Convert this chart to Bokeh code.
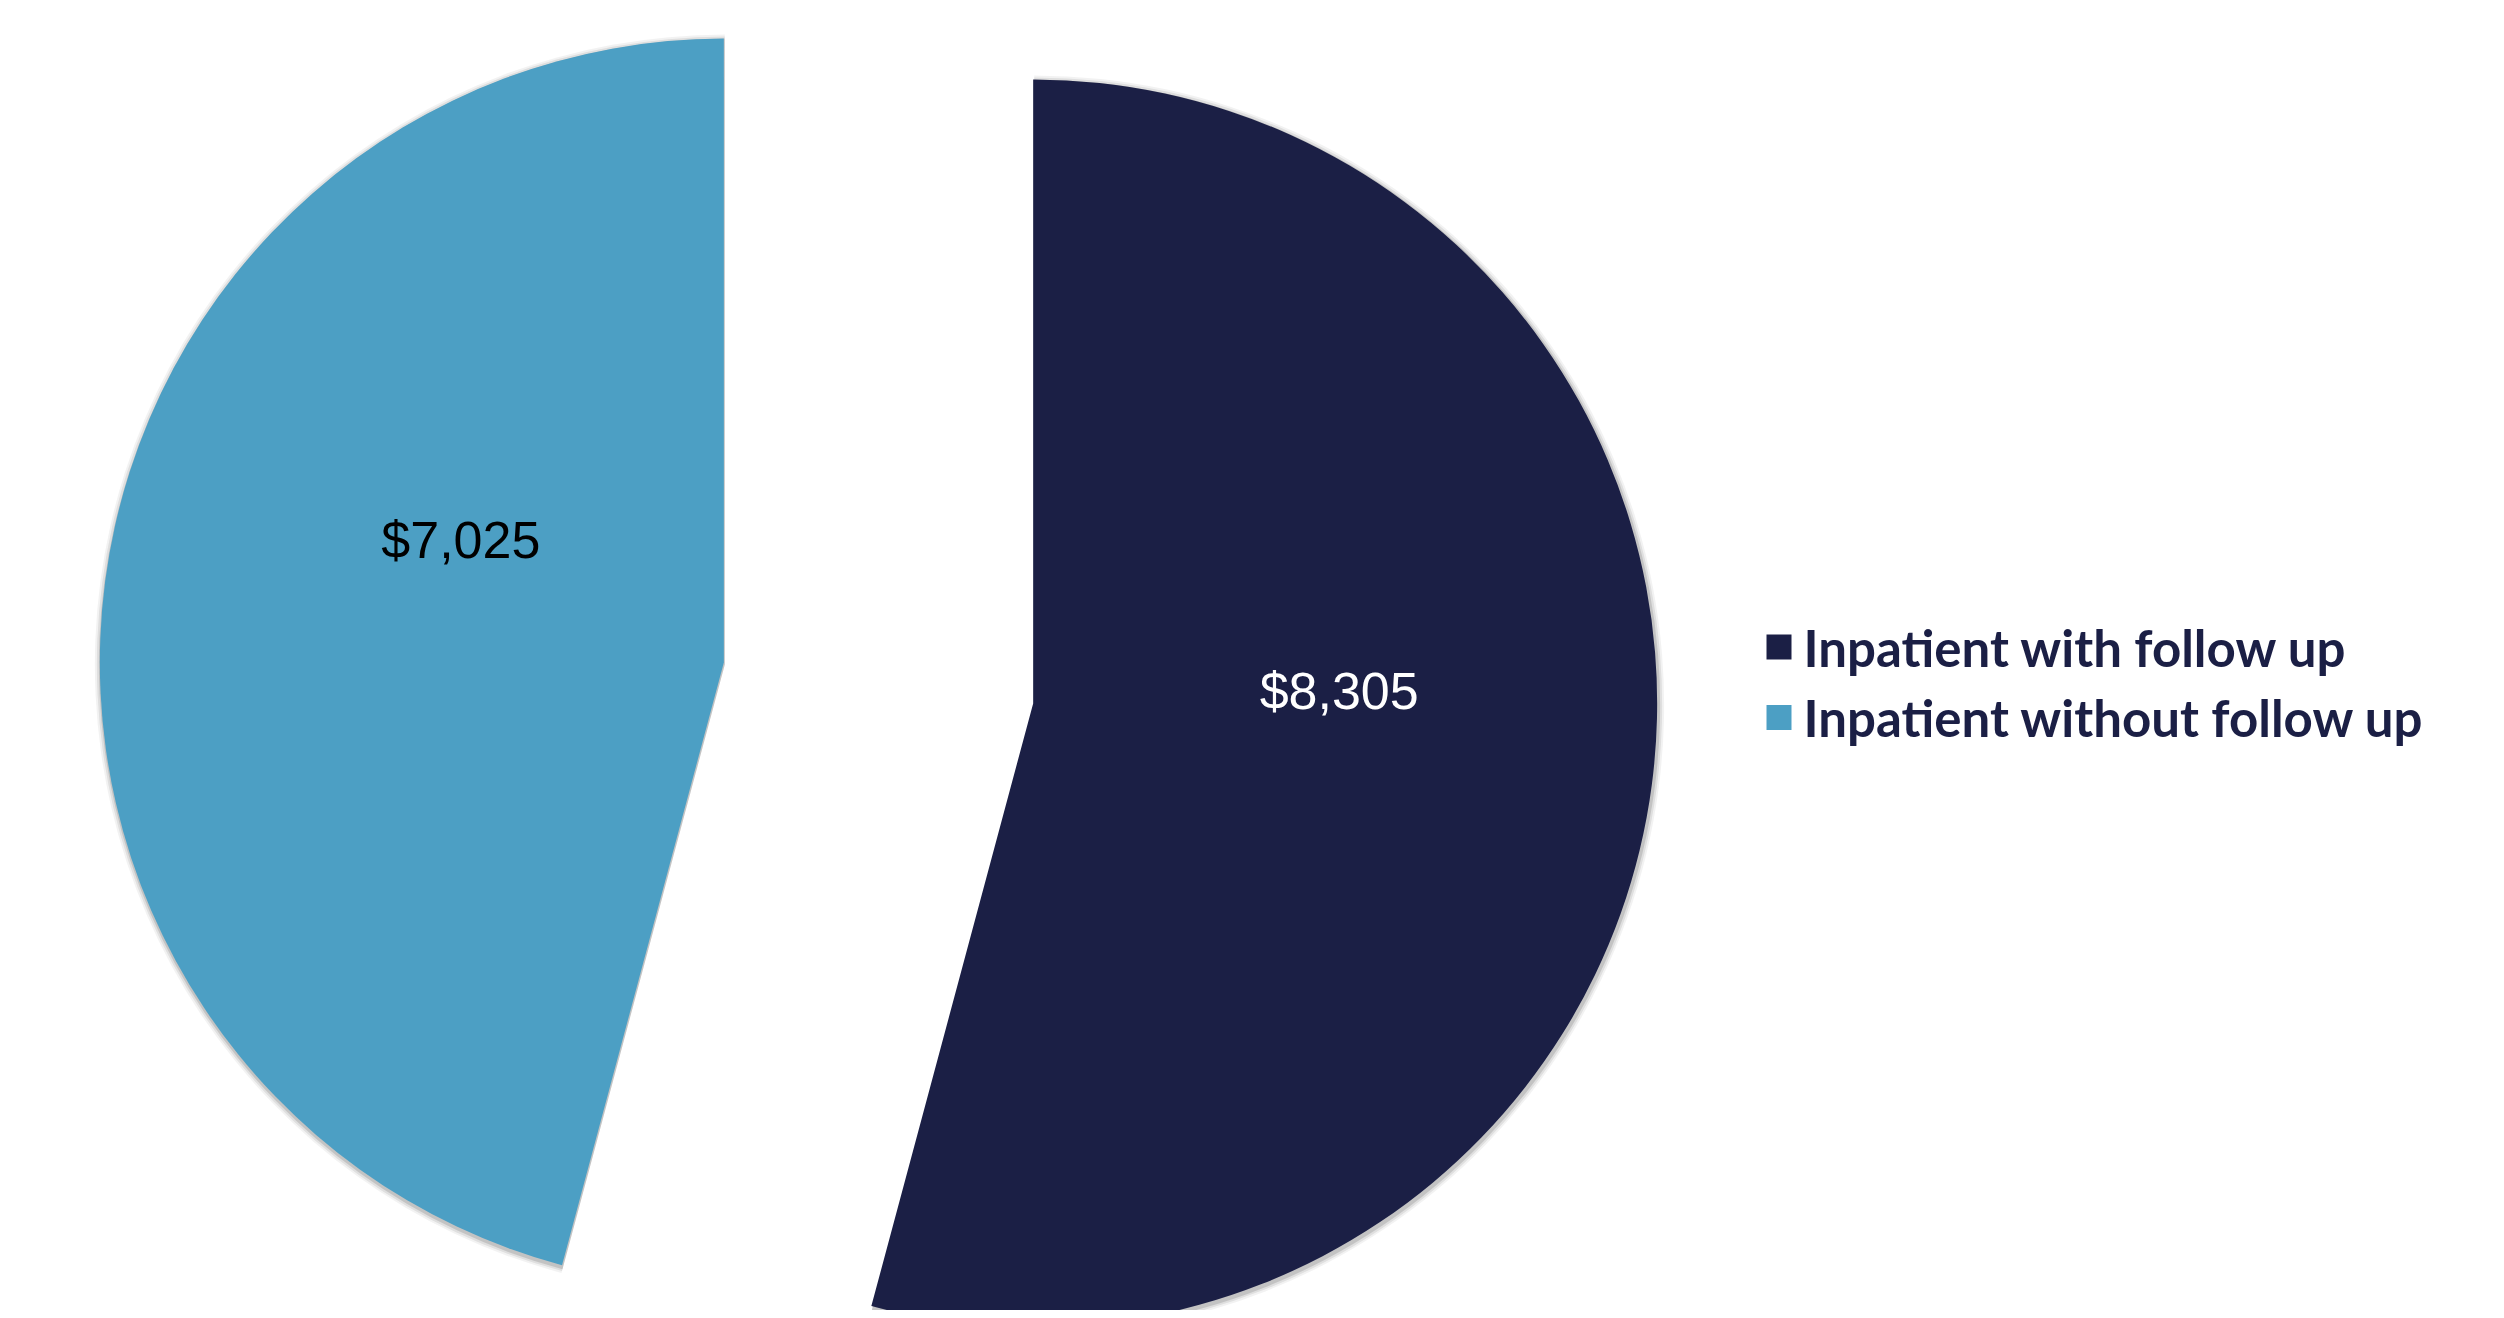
import math
from bokeh.plotting import figure
from bokeh.models import Range1d
from bokeh.core.properties import value
from bokeh.embed import file_html
from bokeh.resources import INLINE

# ---- data ----
categories = ["Inpatient with follow up", "Inpatient without follow up"]
costs = [8305, 7025]
labels = ["$8,305", "$7,025"]
colors = ["#1B1F45", "#4C9FC4"]
label_colors = ["#FFFFFF", "#000000"]

W, H = 2488, 1310
SH = 1318  # reference height used to map picture y -> data y

p = figure(width=W, height=H, output_backend="svg", toolbar_location=None,
           x_range=Range1d(0, W), y_range=Range1d(SH - H, SH),
           x_axis_type=None, y_axis_type=None, min_border=0,
           background_fill_color="white", border_fill_color="white")
p.outline_line_color = None
p.grid.visible = False

cx, cy = 878.0, SH - 682.5   # pie centre
R = 624.0
explode = 156.0

total = float(sum(costs))
start = 90.0  # degrees, slices run clockwise from 12 o'clock
geo = []
for cat, v, col in zip(categories, costs, colors):
    span = v / total * 360.0
    a_end = start
    a_start = start - span
    mid = math.radians((a_start + a_end) / 2)
    ox = cx + explode * math.cos(mid)
    oy = cy + explode * math.sin(mid)
    geo.append((ox, oy, math.radians(a_start), math.radians(a_end), mid))
    start = a_start

# soft shadow
for (ox, oy, s, e, mid) in geo:
    for k, a in [(6, 0.05), (4, 0.08), (2, 0.12)]:
        p.wedge(x=ox + 1, y=oy - 2, radius=R + k, start_angle=s, end_angle=e,
                direction="anticlock", fill_color="#000000", fill_alpha=a,
                line_color=None)

for (ox, oy, s, e, mid), col in zip(geo, colors):
    p.wedge(x=ox, y=oy, radius=R, start_angle=s, end_angle=e,
            direction="anticlock", fill_color=col, line_color=None)

# value labels (placed like the original, relative to each slice centre)
label_offsets = [(306.0, SH - 690.0), (-263.0, SH - 539.0)]
for (ox, oy, s, e, mid), lab, lc, (dx, ly) in zip(geo, labels, label_colors, label_offsets):
    p.text(x=[ox + dx], y=[ly], text=[lab], text_align="center",
           text_baseline="alphabetic", text_color=lc,
           text_font=value("Liberation Sans"), text_font_size="52px")

# legend
leg_x = 1778.5
leg_rows = [SH - 646.5, SH - 717.0]
for cat, col, ry in zip(categories, colors, leg_rows):
    p.rect(x=[leg_x], y=[ry], width=25, height=25, fill_color=col, line_color=None)
    p.text(x=[1803], y=[ry], text=[cat], text_align="left",
           text_baseline="alphabetic", text_color="#1B1F45",
           text_font=value("Lato"), text_font_style="bold",
           text_font_size="51px")

open("out.html", "w").write(file_html(p, INLINE))
